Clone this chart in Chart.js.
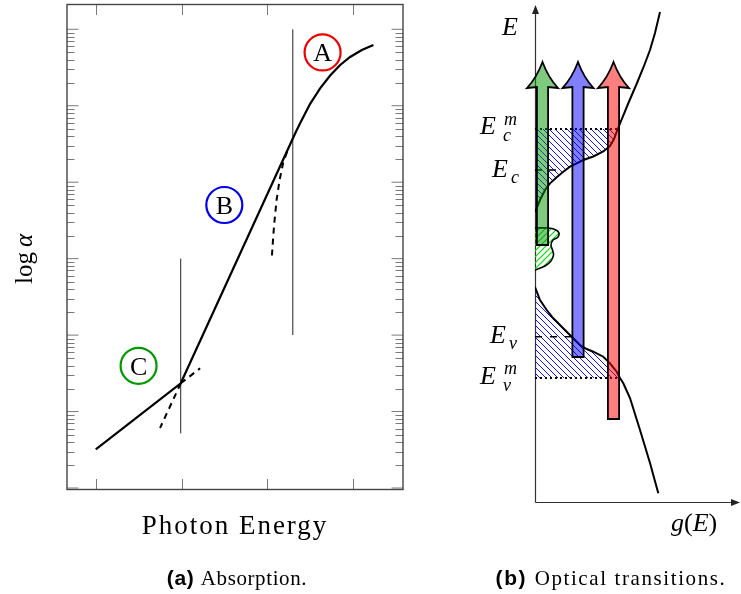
<!DOCTYPE html>
<html>
<head>
<meta charset="utf-8">
<script src="https://cdn.jsdelivr.net/npm/chart.js@4.4.0/dist/chart.umd.min.js"></script>
<style>
  html, body { margin: 0; padding: 0; background: #fff; }
  #stage { position: relative; width: 741px; height: 594px; overflow: hidden; }
  #stage canvas, #stage svg { position: absolute; left: 0; top: 0; }
  #labels { pointer-events: none; font-family: 'Liberation Serif', serif; }
</style>
</head>
<body>
<div id="stage">
  <canvas id="absorption" width="741" height="594"></canvas>
  <canvas id="transitions" width="741" height="594"></canvas>
  <svg id="labels" width="741" height="594" xmlns="http://www.w3.org/2000/svg"></svg>
</div>
<script>
// ===== (a) Absorption: photon energy (arb.) vs alpha on a log axis =====
const energyTicks = [1, 2, 3, 4];
const alphaDecades = [1, 10, 100, 1e3, 1e4, 1e5, 1e6];
const minorSteps = [2, 3, 4, 5, 6, 7, 8, 9];

const edgeE     = [1.0, 1.99, 3.288, 3.334, 3.381, 3.498, 3.614, 3.731, 3.848, 3.964, 4.1, 4.235];
const edgeAlpha = [3.21, 23.4, 35650, 46030, 58900, 106000, 169100, 248700, 341300, 434400, 535900, 623400];

// dashed extrapolations
const steepExtE = [1.99, 1.749];
const steepExtAlpha = [23.4, 6.09];
const tailExtE = [1.99, 2.216];
const tailExtAlpha = [23.4, 36.8];
const sqrtExtE = [3.229, 3.183, 3.142, 3.107, 3.078, 3.061, 3.051];
const sqrtExtAlpha = [24830, 17830, 10690, 5850, 2755, 1509, 1011];

// thin vertical markers
const markE = [1.99, 3.296];
const markFrom = [5.19, 100];
const markTo = [1000, 1e6];

// circled region labels
const regionNames = ['A', 'B', 'C'];
const regionE = [3.643, 2.498, 1.499];
const regionAlpha = [497600, 5035, 39.65];
const regionColors = ['#ee0000', '#0000ee', '#009900'];

// ===== (b) Optical transitions: density of states g(E) vs E =====
const cbG = [0, 0.25, 0.5, 0.75, 1.085, 1.415, 1.75, 2.085, 2.415, 2.915, 3.415, 3.75, 3.95, 4.1, 4.25, 4.65, 5.1, 5.45, 5.75, 6.0, 6.25];
const cbE = [5.80, 6.04, 6.24, 6.373, 6.494, 6.606, 6.706, 6.774, 6.84, 6.91, 7.01, 7.12, 7.26, 7.42, 7.57, 7.96, 8.38, 8.72, 9.04, 9.38, 9.80];
const vbG = [0, 0.25, 0.585, 0.915, 1.25, 1.585, 1.915, 2.25, 2.585, 2.915, 3.415, 3.75, 4.085, 4.25, 4.415, 4.75, 5.25, 5.75, 6.165];
const vbE = [4.30, 4.04, 3.84, 3.674, 3.54, 3.406, 3.274, 3.14, 3.06, 3.006, 2.906, 2.774, 2.606, 2.48, 2.374, 2.08, 1.44, 0.78, 0.174];
const impG = [0, 0.65, 1.0, 1.2, 1.125, 0.9, 0.8, 0.875, 0.925, 0.8, 0.5, 0];
const impE = [5.48, 5.48, 5.45, 5.38, 5.29, 5.24, 5.14, 5.04, 4.94, 4.82, 4.72, 4.64];

const Ecm = 7.46, Ec = 6.64, Ev = 3.306, Evm = 2.48;
const ecDashTo = 1.15, evDashTo = 1.85;

const arrowG = [0.375, 2.15, 3.925];
const arrowFrom = [5.14, 2.9, 1.66];
const arrowHeadBase = 8.3;
const arrowTip = 8.8;
const arrowFill = ['rgba(0,150,0,0.5)', 'rgba(0,0,255,0.5)', 'rgba(255,0,0,0.5)'];

const toXY = (xs, ys) => xs.map((v, i) => ({ x: v, y: ys[i] }));

function clipAt(gs, es, level, keepAbove) {
    const out = [];
    for (let i = 0; i < gs.length; i++) {
        const inside = keepAbove ? es[i] >= level : es[i] <= level;
        if (inside) { out.push({ x: gs[i], y: es[i] }); continue; }
        if (i > 0) {
            const t = (level - es[i - 1]) / (es[i] - es[i - 1]);
            out.push({ x: gs[i - 1] + t * (gs[i] - gs[i - 1]), y: level });
        }
        break;
    }
    return out;
}

function hatch(color, dir, width) {
    const s = 6;
    const c = document.createElement('canvas');
    c.width = s; c.height = s;
    const g = c.getContext('2d');
    g.strokeStyle = color;
    g.lineWidth = width;
    g.beginPath();
    if (dir === 'nw') {
        g.moveTo(-1, -1); g.lineTo(s + 1, s + 1);
        g.moveTo(-1, s - 1); g.lineTo(1, s + 1);
        g.moveTo(s - 1, -1); g.lineTo(s + 1, 1);
    } else {
        g.moveTo(-1, s + 1); g.lineTo(s + 1, -1);
        g.moveTo(-1, 1); g.lineTo(1, -1);
        g.moveTo(s - 1, s + 1); g.lineTo(s + 1, s - 1);
    }
    g.stroke();
    return g.createPattern(c, 'repeat');
}

const lineDefaults = { borderColor: '#000', pointRadius: 0, fill: false, tension: 0 };

// ----- frame + log ticks for (a)
const absFrame = {
    id: 'absFrame',
    beforeDatasetsDraw(chart) {
        const { ctx, chartArea: a, scales: { x, y } } = chart;
        ctx.save();
        ctx.strokeStyle = '#7a7a7a';
        ctx.lineWidth = 1;
        const seg = (x1, y1, x2, y2) => { ctx.beginPath(); ctx.moveTo(x1, y1); ctx.lineTo(x2, y2); ctx.stroke(); };
        energyTicks.forEach(v => {
            const px = Math.round(x.getPixelForValue(v)) + 0.5;
            seg(px, a.bottom, px, a.bottom - 10.5);
            seg(px, a.top, px, a.top + 10.5);
        });
        alphaDecades.forEach((d, i) => {
            const py = y.getPixelForValue(d);
            seg(a.left, py, a.left + 11.5, py);
            seg(a.right, py, a.right - 11.5, py);
            if (i === alphaDecades.length - 1) return;
            minorSteps.forEach(m => {
                const pm = Math.round(y.getPixelForValue(m * d)) + 0.5;
                seg(a.left, pm, a.left + 7.5, pm);
                seg(a.right, pm, a.right - 7.5, pm);
            });
        });
        ctx.strokeStyle = '#444';
        ctx.lineWidth = 1.4;
        ctx.strokeRect(a.left, a.top, a.right - a.left, a.bottom - a.top);
        ctx.restore();
    }
};

const absChart = new Chart(document.getElementById('absorption'), {
    type: 'line',
    data: {
        datasets: [
            { ...lineDefaults, data: toXY(regionE, regionAlpha), showLine: false, pointRadius: 18,
              pointBorderWidth: 2.2, pointBorderColor: regionColors, pointBackgroundColor: 'rgba(0,0,0,0)' },
            { ...lineDefaults, data: toXY(edgeE, edgeAlpha), borderWidth: 2.2 },
            { ...lineDefaults, data: toXY(steepExtE, steepExtAlpha), borderWidth: 2, borderDash: [6, 5] },
            { ...lineDefaults, data: toXY(tailExtE, tailExtAlpha), borderWidth: 2, borderDash: [6, 5] },
            { ...lineDefaults, data: toXY(sqrtExtE, sqrtExtAlpha), borderWidth: 2, borderDash: [6, 5] },
            ...markE.map((e, i) => ({ ...lineDefaults, data: [{ x: e, y: markFrom[i] }, { x: e, y: markTo[i] }],
                borderWidth: 1, borderColor: '#222' }))
        ]
    },
    options: {
        responsive: false,
        animation: false,
        layout: { autoPadding: false, padding: { left: 67, top: 4.5, right: 338, bottom: 104.5 } },
        scales: {
            x: { type: 'linear', min: 0.665, max: 4.58, bounds: 'data', display: false },
            y: { type: 'logarithmic', min: 0.956, max: 2.11e6, bounds: 'data', display: false }
        },
        plugins: { legend: { display: false }, tooltip: { enabled: false } }
    },
    plugins: [absFrame]
});

// ----- axes with arrow heads for (b)
const dosAxes = {
    id: 'dosAxes',
    beforeDatasetsDraw(chart) {
        const { ctx, chartArea: a, scales: { x, y } } = chart;
        const x0 = Math.round(x.getPixelForValue(0)) + 0.5;
        const y0 = Math.round(y.getPixelForValue(0)) + 0.5;
        ctx.save();
        ctx.strokeStyle = '#333';
        ctx.fillStyle = '#222';
        ctx.lineWidth = 1.2;
        ctx.beginPath();
        ctx.moveTo(x0, y0); ctx.lineTo(x0, a.top + 6);
        ctx.moveTo(x0, y0); ctx.lineTo(a.right - 6, y0);
        ctx.stroke();
        ctx.beginPath();
        ctx.moveTo(x0, a.top); ctx.lineTo(x0 - 3.5, a.top + 9); ctx.lineTo(x0 + 3.5, a.top + 9); ctx.closePath();
        ctx.moveTo(a.right, y0); ctx.lineTo(a.right - 9, y0 - 3.5); ctx.lineTo(a.right - 9, y0 + 3.5); ctx.closePath();
        ctx.fill();
        ctx.restore();
    }
};

const transitionArrows = {
    id: 'transitionArrows',
    afterDatasetsDraw(chart) {
        const { ctx, scales: { x, y } } = chart;
        ctx.save();
        arrowG.forEach((g, i) => {
            const cx = x.getPixelForValue(g);
            const yb = y.getPixelForValue(arrowFrom[i]);
            const yh = y.getPixelForValue(arrowHeadBase);
            const yt = y.getPixelForValue(arrowTip);
            const hw = 5.6, hh = 15.5;
            ctx.beginPath();
            ctx.moveTo(cx - hw, yb);
            ctx.lineTo(cx - hw, yh);
            ctx.lineTo(cx - hh, yh + 1);
            ctx.quadraticCurveTo(cx - 6, yh - 9, cx, yt);
            ctx.quadraticCurveTo(cx + 6, yh - 9, cx + hh, yh + 1);
            ctx.lineTo(cx + hw, yh);
            ctx.lineTo(cx + hw, yb);
            ctx.closePath();
            ctx.fillStyle = arrowFill[i];
            ctx.fill();
            ctx.lineWidth = 1.8;
            ctx.lineJoin = 'miter';
            ctx.strokeStyle = '#000';
            ctx.stroke();
        });
        ctx.restore();
    }
};

const cbHatch = clipAt(cbG, cbE, Ecm, false);
const vbHatch = clipAt(vbG, vbE, Evm, true);
const blueLines = hatch('#1010ff', 'nw', 1);
const greenLines = hatch('#00e000', 'ne', 1.2);

const dosChart = new Chart(document.getElementById('transitions'), {
    type: 'line',
    data: {
        datasets: [
            { ...lineDefaults, data: toXY(cbG, cbE), borderWidth: 2 },
            { ...lineDefaults, data: toXY(vbG, vbE), borderWidth: 2 },
            { ...lineDefaults, data: [{ x: 0, y: Ec }, { x: ecDashTo, y: Ec }], borderWidth: 1.6, borderDash: [7, 7] },
            { ...lineDefaults, data: [{ x: 0, y: Ev }, { x: evDashTo, y: Ev }], borderWidth: 1.6, borderDash: [7, 8] },
            { ...lineDefaults, data: [{ x: 0, y: Ecm }, { x: cbHatch[cbHatch.length - 1].x, y: Ecm }], borderWidth: 2, borderDash: [2, 3] },
            { ...lineDefaults, data: [{ x: 0, y: Evm }, { x: vbHatch[vbHatch.length - 1].x, y: Evm }], borderWidth: 2, borderDash: [2, 3] },
            { ...lineDefaults, data: toXY(impG, impE), borderWidth: 1.6, tension: 0.35, fill: 'shape', backgroundColor: greenLines },
            { ...lineDefaults, data: cbHatch, borderWidth: 0, fill: { value: Ecm }, backgroundColor: blueLines },
            { ...lineDefaults, data: vbHatch, borderWidth: 0, fill: { value: Evm }, backgroundColor: blueLines }
        ]
    },
    options: {
        responsive: false,
        animation: false,
        layout: { autoPadding: false, padding: { left: 535, top: 5, right: 1, bottom: 92 } },
        scales: {
            x: { type: 'linear', min: 0, max: 10.25, bounds: 'data', display: false },
            y: { type: 'linear', min: 0, max: 9.94, bounds: 'data', display: false }
        },
        plugins: { legend: { display: false }, tooltip: { enabled: false } }
    },
    plugins: [dosAxes, transitionArrows]
});

// ===== text labels =====
const svg = document.getElementById('labels');
function addText(x, y, parts, opts = {}) {
    const t = document.createElementNS('http://www.w3.org/2000/svg', 'text');
    t.setAttribute('x', x);
    t.setAttribute('y', y);
    t.setAttribute('font-size', opts.size || 24);
    if (opts.anchor) t.setAttribute('text-anchor', opts.anchor);
    if (opts.transform) t.setAttribute('transform', opts.transform);
    if (opts.italic) t.setAttribute('font-style', 'italic');
    if (opts.spacing) t.setAttribute('letter-spacing', opts.spacing);
    (Array.isArray(parts) ? parts : [[parts]]).forEach(([s, style]) => {
        const sp = document.createElementNS('http://www.w3.org/2000/svg', 'tspan');
        sp.textContent = s;
        if (style && style.italic) sp.setAttribute('font-style', 'italic');
        if (style && style.family) sp.setAttribute('font-family', style.family);
        if (style && style.weight) sp.setAttribute('font-weight', style.weight);
        t.appendChild(sp);
    });
    svg.appendChild(t);
}

// (a)
{
    const { x, y } = absChart.scales;
    regionNames.forEach((n, i) => {
        addText(x.getPixelForValue(regionE[i]), y.getPixelForValue(regionAlpha[i]) + 9, n, { size: 26, anchor: 'middle' });
    });
    addText(0, 0, [['log\u2009'], ['\u03b1', { italic: true }]], { size: 25, anchor: 'middle', transform: 'translate(32,259) rotate(-90)' });
    addText(235, 534, 'Photon Energy', { size: 27, anchor: 'middle', spacing: 2 });
    addText(237, 585, [['(a) ', { family: 'Liberation Sans', weight: 'bold' }], ['Absorption.']], { size: 21, anchor: 'middle', spacing: 0.6 });
}

// (b)
{
    const { y } = dosChart.scales;
    const py = v => y.getPixelForValue(v);
    addText(502, 35, 'E', { size: 26, italic: true });
    // E_c^m
    addText(480, py(Ecm) + 5, 'E', { size: 26, italic: true });
    addText(504, py(Ecm) - 4, 'm', { size: 18, italic: true });
    addText(503, py(Ecm) + 12, 'c', { size: 18, italic: true });
    // E_c
    addText(492, py(Ec) + 7, 'E', { size: 26, italic: true });
    addText(511, py(Ec) + 12.5, 'c', { size: 18, italic: true });
    // E_v
    addText(490, py(Ev) + 6.5, 'E', { size: 26, italic: true });
    addText(509, py(Ev) + 12.5, 'v', { size: 18, italic: true });
    // E_v^m
    addText(480, py(Evm) + 6, 'E', { size: 26, italic: true });
    addText(504, py(Evm) - 4, 'm', { size: 18, italic: true });
    addText(503, py(Evm) + 13, 'v', { size: 18, italic: true });
    addText(671, 531, [['g', { italic: true }], ['('], ['E', { italic: true }], [')']], { size: 26 });
    addText(611, 585, [['(b) ', { family: 'Liberation Sans', weight: 'bold' }], ['Optical transitions.']], { size: 21, anchor: 'middle', spacing: 1.6 });
}
</script>
</body>
</html>
